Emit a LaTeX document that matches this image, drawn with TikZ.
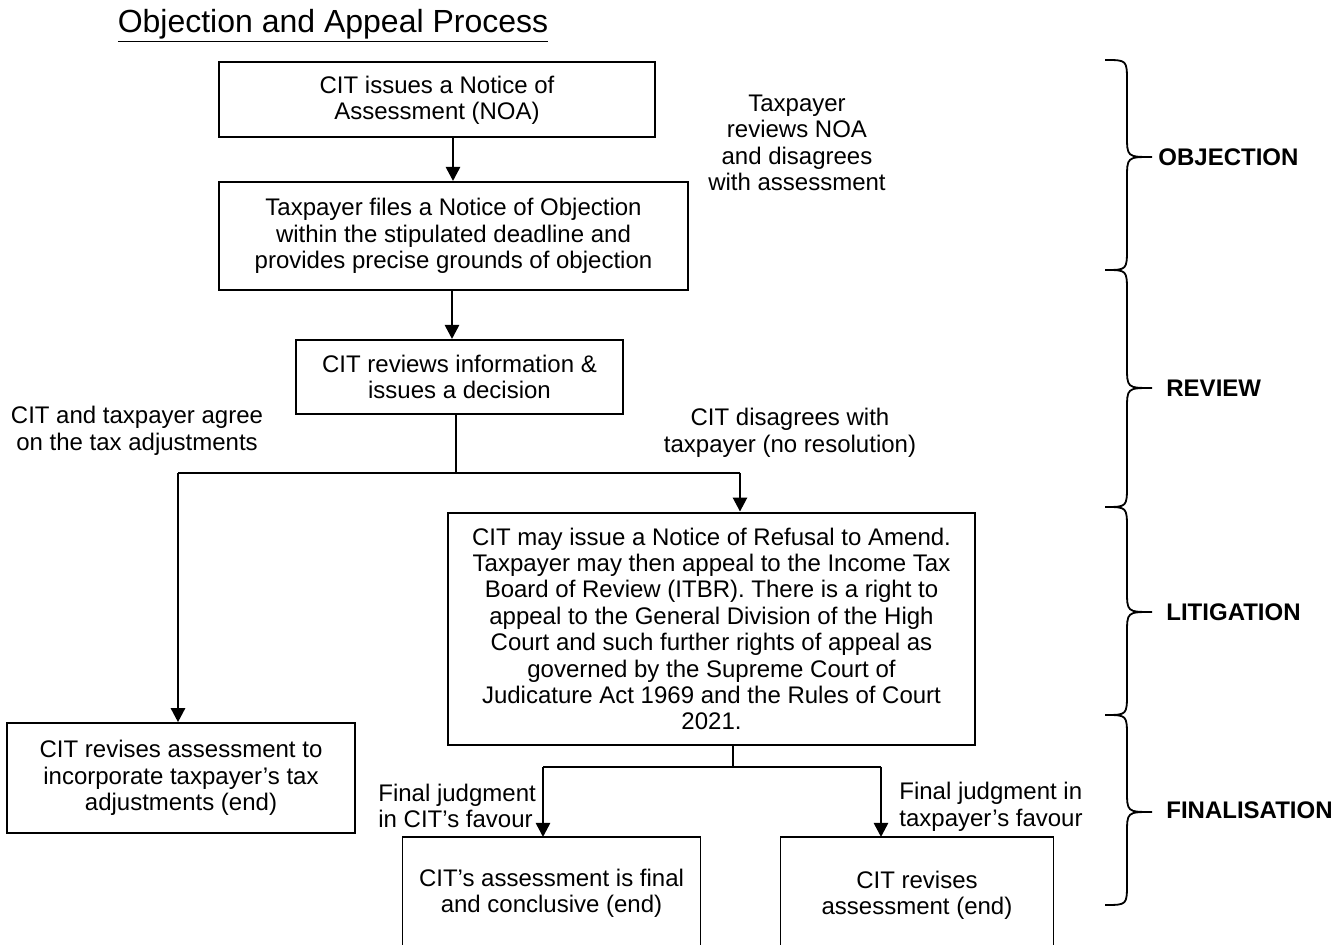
\documentclass[tikz,border=0pt]{standalone}
\usepackage{fontspec}
\setmainfont{Liberation Sans}
\usetikzlibrary{arrows.meta}
\newcommand\mybody{\fontsize{12}{13.2}\selectfont}
\newcommand\myphase{\fontsize{12}{13.2}\selectfont\bfseries}
\newcommand\mytitle{\fontsize{16}{18}\selectfont}
\tikzset{
  boxn/.style={draw, line width=1pt, align=center, inner sep=0pt, font=\mybody},
  openbox/.style={inner sep=0pt},
  txt/.style={align=center, inner sep=0pt, font=\mybody},
  arr/.style={line width=1.3pt, -{Triangle[width=7pt,length=7pt]}},
  thinln/.style={line width=0.7pt},
  thickln/.style={line width=1.3pt},
  brc/.style={line width=0.9pt},
  phase/.style={font=\myphase, anchor=west, inner sep=0pt}
}
\begin{document}
\begin{tikzpicture}[x=0.5pt,y=-0.5pt]
\useasboundingbox (0,0) rectangle (1341,945);

% title
\node[inner sep=0pt, font=\mytitle] (title) at (333,26) {\underline{Objection and Appeal Process}};

% boxes
\node[boxn, minimum width=218pt, minimum height=37.5pt] (b1) at (437,100)
  {CIT issues a Notice of\\Assessment (NOA)};
\node[boxn, minimum width=234.5pt, minimum height=54pt] (b2) at (453.5,236)
  {Taxpayer files a Notice of Objection\\within the stipulated deadline and\\provides precise grounds of objection};
\node[boxn, minimum width=163.5pt, minimum height=37pt] (b3) at (459.5,377)
  {CIT reviews information \&\\issues a decision};
\node[boxn, line width=1.4pt, minimum width=263.5pt, minimum height=116pt] (lit) at (711.5,629)
  {CIT may issue a Notice of Refusal to Amend.\\Taxpayer may then appeal to the Income Tax\\Board of Review (ITBR). There is a right to\\appeal to the General Division of the High\\Court and such further rights of appeal as\\governed by the Supreme Court of\\Judicature Act 1969 and the Rules of Court\\2021.};
\node[boxn, line width=0.8pt, minimum width=174pt, minimum height=55pt] (agree) at (181,778)
  {CIT revises assessment to\\incorporate taxpayer’s tax\\adjustments (end)};

% open-bottom boxes
\node[openbox, minimum width=148.5pt, minimum height=57pt, anchor=north] (fin1) at (551.5,837) {};
\node[openbox, minimum width=136pt, minimum height=57pt, anchor=north] (fin2) at (917,837) {};
\draw[line width=0.8pt] (fin1.south west) -- (fin1.north west) -- (fin1.north east) -- (fin1.south east);
\draw[line width=0.8pt] (fin2.south west) -- (fin2.north west) -- (fin2.north east) -- (fin2.south east);
\node[txt] (fin1t) at (551.5,893) {CIT’s assessment is final\\and conclusive (end)};
\node[txt] (fin2t) at (917,895) {CIT revises\\assessment (end)};

% side texts
\node[txt] (rev) at (797,143) {Taxpayer\\reviews NOA\\and disagrees\\with assessment};
\node[txt] (agr) at (137,431) {CIT and taxpayer agree\\on the tax adjustments};
\node[txt] (dis) at (790,433) {CIT disagrees with\\taxpayer (no resolution)};
\node[txt, align=left, anchor=west] (fj1) at (378,806) {Final judgment\\in CIT’s favour};
\node[txt, align=left, anchor=west] (fj2) at (899,807) {Final judgment in\\taxpayer’s favour};

% connector coordinates
\coordinate (x1) at (453,0);
\coordinate (x2) at (452,0);
\coordinate (x3) at (456,0);
\coordinate (jn) at (456,473);
\coordinate (jl) at (178,473);
\coordinate (jr) at (740,473);
\coordinate (x4) at (733,0);
\coordinate (kn) at (733,767);
\coordinate (kl) at (543,767);
\coordinate (kr) at (881,767);

\draw[arr] (b1.south -| x1) -- (b2.north -| x1);
\draw[arr] (b2.south -| x2) -- (b3.north -| x2);
\draw[thinln] (b3.south -| x3) -- (jn);
\draw[thickln] (jl) -- (jr);
\draw[arr] (jr) -- (lit.north -| jr);
\draw[arr] (jl) -- (agree.north -| jl);
\draw[thinln] (lit.south -| x4) -- (kn);
\draw[thickln] (kl) -- (kr);
\draw[arr] (kl) -- (fin1.north -| kl);
\draw[arr] (kr) -- (fin2.north -| kr);

% braces
\def\bx{1105}\def\bv{1127}\def\bt{1152}
\foreach \top/\tip/\bot in {60/157/270, 270/388/507, 507/612/715, 715/812/905}{
  \draw[brc] (\bx,\top) .. controls (\bv,\top) .. (\bv,\top+22)
     -- (\bv,\tip-22) .. controls (\bv,\tip) .. (\bt,\tip)
     .. controls (\bv,\tip) .. (\bv,\tip+22)
     -- (\bv,\bot-22) .. controls (\bv,\bot) .. (\bx,\bot);
}
\node[phase] (pO) at (1158,157) {OBJECTION};
\node[phase] (pR) at (1166,388) {REVIEW};
\node[phase] (pL) at (1166,612) {LITIGATION};
\node[phase] (pF) at (1166,810) {FINALISATION};
\end{tikzpicture}
\end{document}
